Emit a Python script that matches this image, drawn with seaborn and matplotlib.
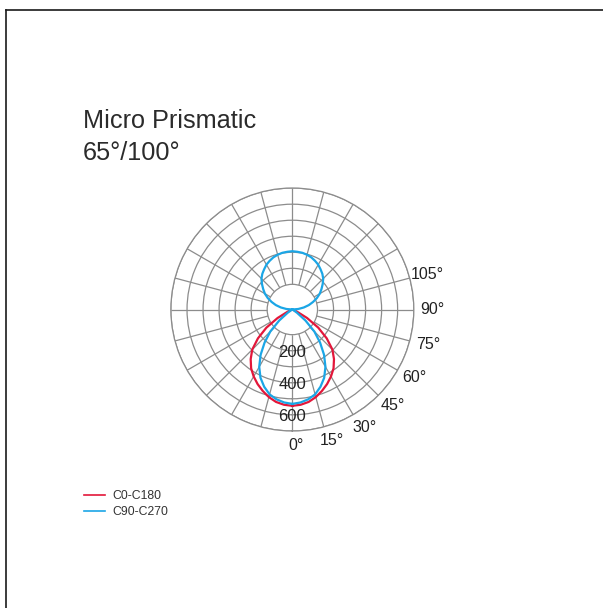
import numpy as np
import pandas as pd
import seaborn as sns
import matplotlib.pyplot as plt
from matplotlib.lines import Line2D
from matplotlib.transforms import ScaledTranslation

# gamma angles (deg) and intensities (cd)
gamma_lower = [0, 5, 10, 15, 20, 25, 30, 35, 40, 45, 50, 55, 60, 65, 70, 75, 80, 85, 90]
c0_c180 = [547, 543, 533, 515, 492, 467, 439, 408, 368, 322, 255, 180, 97, 29, 6, 0, 0, 0, 0]
c90_lower = [536, 530, 518, 499, 467, 428, 376, 314, 245, 177, 97, 32, 6, 0, 0, 0, 0, 0, 0]
gamma_upper = [95, 100, 105, 110, 115, 120, 125, 130, 135, 140, 145, 150, 155, 160, 165, 170, 175, 180]
c90_upper = [34, 66, 97, 125, 154, 180, 202, 225, 248, 265, 279, 294, 305, 315, 322, 327, 329, 331]

ring_values = [143, 234, 325, 416, 507, 598, 690]
ring_labels = ['', '200', '', '400', '', '600', '']
angle_ticks = [0, 15, 30, 45, 60, 75, 90, 105]

RED = '#e3173a'
BLUE = '#1ba6e6'
GRID = '#8c8c8c'

def full_curve(g, v):
    # mirror the half plane to the other side (C0/C180, C90/C270)
    g = np.array(g, dtype=float)
    v = np.array(v, dtype=float)
    th = np.concatenate([g, 360 - g[::-1]])
    rr = np.concatenate([v, v[::-1]])
    return pd.DataFrame({'theta': np.deg2rad(th), 'r': rr})

red_df = full_curve(gamma_lower, c0_c180)
blue_df = full_curve(gamma_lower + gamma_upper, c90_lower + c90_upper)

fig = plt.figure(figsize=(6.03, 6.08), dpi=100)
ax = fig.add_axes([0.2833, 0.2911, 0.403, 0.3997], projection='polar')
ax.set_theta_zero_location('S')
ax.set_theta_direction(1)
ax.set_ylim(0, ring_values[-1])

# grid: rings + spokes starting at the inner ring
ax.set_yticks(ring_values)
ax.set_yticklabels([])
ax.yaxis.grid(True, color=GRID, lw=0.9)
ax.xaxis.grid(False)
ax.set_xticks([])
spokes = np.deg2rad(np.arange(0, 360, 15))
ax.vlines(spokes, ring_values[0], ring_values[-1], color=GRID, lw=0.9, zorder=1)
ax.spines['polar'].set_color(GRID)
ax.spines['polar'].set_linewidth(0.9)

sns.lineplot(data=red_df, x='theta', y='r', ax=ax, color=RED, lw=1.6,
             sort=False, estimator=None, zorder=3)
sns.lineplot(data=blue_df, x='theta', y='r', ax=ax, color=BLUE, lw=1.6,
             sort=False, estimator=None, zorder=4)
ax.set_xlabel('')
ax.set_ylabel('')

# angle labels just outside the outer ring, nudged right a little
shift = ax.transData + ScaledTranslation(4 / 100, 0, fig.dpi_scale_trans)
for a in angle_ticks:
    ax.text(np.deg2rad(a), ring_values[-1] * 1.12, f'{a}°', transform=shift,
            ha='center', va='center', fontsize=11.5, family='Liberation Sans',
            color='#222222', clip_on=False)

for v, lab in zip(ring_values, ring_labels):
    if lab:
        ax.text(0, v + 8, lab, ha='center', va='center', fontsize=12,
                family='Liberation Sans', color='#222222', zorder=5)

# title
fig.text(83 / 603, 1 - 128 / 608, 'Micro Prismatic', fontsize=18.2,
         family='Liberation Sans', color='#2b2b2b', va='baseline', ha='left')
fig.text(83 / 603, 1 - 160 / 608, '65°/100°', fontsize=18.2,
         family='Liberation Sans', color='#2b2b2b', va='baseline', ha='left')

# legend
handles = [Line2D([], [], color=RED, lw=1.2), Line2D([], [], color=BLUE, lw=1.2)]
leg = fig.legend(handles, ['C0-C180', 'C90-C270'], loc='upper left',
                 bbox_to_anchor=(73 / 603, 1 - 479 / 608), frameon=False,
                 prop={'family': 'Liberation Sans', 'size': 8.8},
                 handlelength=1.75, handletextpad=0.55, labelspacing=0.35)
for t in leg.get_texts():
    t.set_color('#333333')

# page frame (top and left edges)
fig.add_artist(Line2D([5.5 / 603, 1], [1 - 9.5 / 608, 1 - 9.5 / 608],
                      transform=fig.transFigure, color='#1a1a1a', lw=1.2))
fig.add_artist(Line2D([5.5 / 603, 5.5 / 603], [0, 1 - 9.5 / 608],
                      transform=fig.transFigure, color='#1a1a1a', lw=1.2))

fig.savefig('out.png', dpi=100)
